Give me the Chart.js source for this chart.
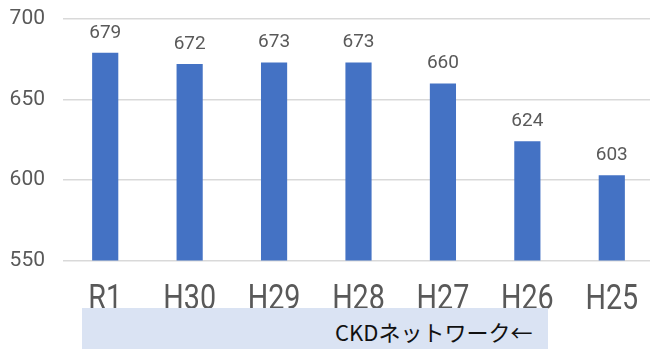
<!DOCTYPE html>
<html>
<head>
<meta charset="utf-8">
<script src="https://cdn.jsdelivr.net/npm/chart.js@4"></script>
<style>
  html, body { margin: 0; padding: 0; background: #fff; overflow: hidden; }
  #wrap { position: relative; width: 654px; height: 349px; }
  #note {
    position: absolute; left: 82px; top: 308px; width: 466px; height: 45px;
    background: #dae3f3;
  }
  #note span {
    position: absolute; left: 253px; top: 12px;
    font-family: "Noto Sans CJK JP", sans-serif; font-size: 22px; color: #111;
    line-height: 1; white-space: nowrap;
  }
</style>
</head>
<body>
<div id="wrap">
  <canvas id="chart" width="654" height="349"></canvas>
  <div id="note"><span>CKDネットワーク←</span></div>
</div>
<script>
// data
const categories = ['R1', 'H30', 'H29', 'H28', 'H27', 'H26', 'H25'];
const patients = [679, 672, 673, 673, 660, 624, 603];
const yTicks = [550, 600, 650, 700];

// values above the bars
const valueLabels = {
    id: 'valueLabels',
    afterDatasetsDraw(chart) {
        const ctx = chart.ctx;
        const meta = chart.getDatasetMeta(0);
        ctx.save();
        ctx.font = '19px Roboto';
        ctx.fillStyle = '#595959';
        ctx.textAlign = 'center';
        ctx.textBaseline = 'middle';
        meta.data.forEach(function (bar, i) {
            ctx.fillText(String(patients[i]), bar.x, bar.y - 20);
        });
        ctx.restore();
    }
};

// category labels, drawn a bit condensed like the original
const categoryLabels = {
    id: 'categoryLabels',
    afterDraw(chart) {
        const ctx = chart.ctx;
        const x = chart.scales.x;
        ctx.save();
        ctx.font = '35px Roboto';
        ctx.fillStyle = '#595959';
        ctx.textAlign = 'center';
        ctx.textBaseline = 'alphabetic';
        categories.forEach(function (c, i) {
            const px = x.getPixelForValue(i);
            ctx.save();
            ctx.translate(px, chart.chartArea.bottom + 48);
            ctx.scale(0.82, 1);
            ctx.fillText(c, 0, 0);
            ctx.restore();
        });
        ctx.restore();
    }
};

const ctx = document.getElementById('chart').getContext('2d');
const chart = new Chart(ctx, {
    type: 'bar',
    data: {
        labels: categories,
        datasets: [{
            data: patients,
            backgroundColor: '#4472c4',
            categoryPercentage: 1,
            barPercentage: 0.31,
        }],
    },
    options: {
        responsive: false,
        animation: false,
        layout: { padding: { top: 19, right: 0, left: 0, bottom: 0 } },
        plugins: { legend: { display: false }, tooltip: { enabled: false } },
        scales: {
            y: {
                min: 550,
                max: 700,
                afterBuildTicks(axis) { axis.ticks = yTicks.map(v => ({ value: v })); },
                afterFit(axis) {
                    axis.width = 63;
                    axis.paddingTop = 0;
                    axis.paddingBottom = 0;
                },
                border: { display: false },
                grid: { color: '#d9d9d9', lineWidth: 1.5, drawTicks: false },
                ticks: { color: '#595959', font: { family: 'Roboto', size: 21 }, padding: 18 },
            },
            x: {
                afterFit(axis) { axis.height = 88.5; },
                border: { display: false },
                grid: { display: false, drawTicks: false },
                ticks: { display: false },
            },
        },
    },
    plugins: [valueLabels, categoryLabels],
});
</script>
</body>
</html>
